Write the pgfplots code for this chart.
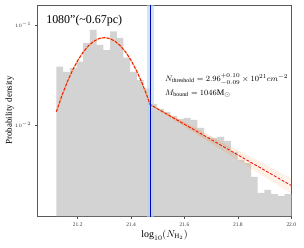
\documentclass[border=0pt]{standalone}
\usepackage{pgfplots}
\pgfplotsset{compat=1.18}
\usepackage{fontspec}
\setmainfont{Liberation Serif}
\definecolor{histgray}{RGB}{211,211,211}
\definecolor{bandblue}{RGB}{173,216,230}
\definecolor{vline}{RGB}{0,0,190}
\definecolor{fitred}{RGB}{240,20,10}
\definecolor{fitorange}{RGB}{255,140,40}
\begin{document}
\begin{tikzpicture}
\useasboundingbox (-37.7bp,-32bp) rectangle (266.3bp,216bp);
\begin{axis}[
  scale only axis,
  width=253.6bp, height=211bp,
  xmin=21.05, xmax=22.0,
  ymode=log, ymin=1.23e-3, ymax=0.158,
  xtick={21.2,21.4,21.6,21.8,22.0},
  xticklabels={21.2,21.4,21.6,21.8,22.0},
  ytick={0.01,0.1},
  minor xtick={},
  axis line style={gray!70!black, line width=0.6pt},
  tick style={gray!60!black, line width=0.5pt},
  tick align=outside,
  xtick pos=bottom, ytick pos=left,
  major tick length=3bp, minor tick length=2bp,
  tick label style={font=\fontsize{5.5}{6}\selectfont, text=black!80},
  log basis y=10,
  xlabel={$\log_{10}(N_{\mathrm{H}_2})$},
  ylabel={Probability density},
  xlabel style={font=\fontsize{10}{12}\selectfont, at={(axis description cs:0.5,-0.09)}, anchor=center},
  ylabel style={font=\fontsize{9}{11}\selectfont, at={(axis description cs:-0.11,0.5)}, anchor=center},
  log origin=infty,
  clip=true,
]
% histogram
\addplot[ybar interval, fill=histgray, draw=none] coordinates {
(21.1200,0.0383) (21.1451,0.0340) (21.1703,0.0370) (21.1954,0.0430)
(21.2206,0.0660) (21.2457,0.0890) (21.2709,0.0630) (21.2960,0.0560)
(21.3211,0.0860) (21.3463,0.0740) (21.3714,0.0470) (21.3966,0.0340)
(21.4217,0.0280) (21.4469,0.0230) (21.4720,0.01622) (21.4971,0.01445)
(21.5223,0.01349) (21.5474,0.01230) (21.5726,0.01148) (21.5977,0.01175)
(21.6229,0.01122) (21.6480,0.00933) (21.6731,0.00759) (21.6983,0.00741)
(21.7234,0.00759) (21.7486,0.00692) (21.7737,0.00537) (21.7989,0.00447)
(21.8240,0.00417) (21.8491,0.00302) (21.8743,0.00209) (21.8994,0.00224)
(21.9246,0.00204) (21.9497,0.00195) (21.9749,0.00204) (22.0000,0.00204)
};
% uncertainty band of threshold
\addplot[fill=bandblue, fill opacity=0.6, draw=none] coordinates {
(21.458,1.0e-3) (21.458,0.2) (21.485,0.2) (21.485,1.0e-3)} -- cycle;
% bootstrap power-law samples
\addplot[fitorange, opacity=0.25, line width=0.5pt] coordinates {(21.471,0.0160) (22.0,0.00288)};
\addplot[fitorange, opacity=0.25, line width=0.5pt] coordinates {(21.471,0.0160) (22.0,0.00275)};
\addplot[fitorange, opacity=0.25, line width=0.5pt] coordinates {(21.471,0.0160) (22.0,0.00263)};
\addplot[fitorange, opacity=0.25, line width=0.5pt] coordinates {(21.471,0.0160) (22.0,0.00240)};
\addplot[fitorange, opacity=0.25, line width=0.5pt] coordinates {(21.471,0.0160) (22.0,0.00229)};
\addplot[fitorange, opacity=0.25, line width=0.5pt] coordinates {(21.471,0.0160) (22.0,0.00219)};
\addplot[fitorange, opacity=0.25, line width=0.5pt] coordinates {(21.471,0.0160) (22.0,0.00209)};
% orange underlay of the fit
\addplot[fitorange, opacity=0.5, line width=1.5pt] coordinates {
(21.12,0.01356) (21.14,0.01939) (21.16,0.02660) (21.18,0.03497) (21.20,0.04407)
(21.22,0.05327) (21.24,0.06172) (21.26,0.06857) (21.28,0.07305) (21.30,0.0746)
(21.32,0.07305) (21.34,0.06857) (21.36,0.06172) (21.38,0.05327) (21.40,0.04407)
(21.42,0.03497) (21.44,0.02660) (21.46,0.01939) (21.471,0.0160)};
% red dashed fit
\addplot[fitred, line width=0.9pt, dash pattern=on 3bp off 1.5bp] coordinates {
(21.12,0.01356) (21.14,0.01939) (21.16,0.02660) (21.18,0.03497) (21.20,0.04407)
(21.22,0.05327) (21.24,0.06172) (21.26,0.06857) (21.28,0.07305) (21.30,0.0746)
(21.32,0.07305) (21.34,0.06857) (21.36,0.06172) (21.38,0.05327) (21.40,0.04407)
(21.42,0.03497) (21.44,0.02660) (21.46,0.01939) (21.471,0.0160) (22.0,0.00248)};
% threshold line
\addplot[vline, line width=0.9pt] coordinates {(21.471,1.0e-3) (21.471,0.2)};
\node[anchor=west, font=\fontsize{12}{14}\selectfont] at (axis description cs:0.02,0.925) {1080"(\textasciitilde0.67pc)};
\node[anchor=west, font=\fontsize{8.5}{10}\selectfont, inner sep=0pt] at (axis cs:21.527,0.0284) {$N_{\mathrm{threshold}}=2.96^{+0.10}_{-0.09}\times10^{21}cm^{-2}$};
\node[anchor=west, font=\fontsize{8.5}{10}\selectfont, inner sep=0pt] at (axis cs:21.527,0.0206) {$M_{\mathrm{bound}}=1046\mathrm{M}_{\odot}$};
\end{axis}
\end{tikzpicture}
\end{document}
